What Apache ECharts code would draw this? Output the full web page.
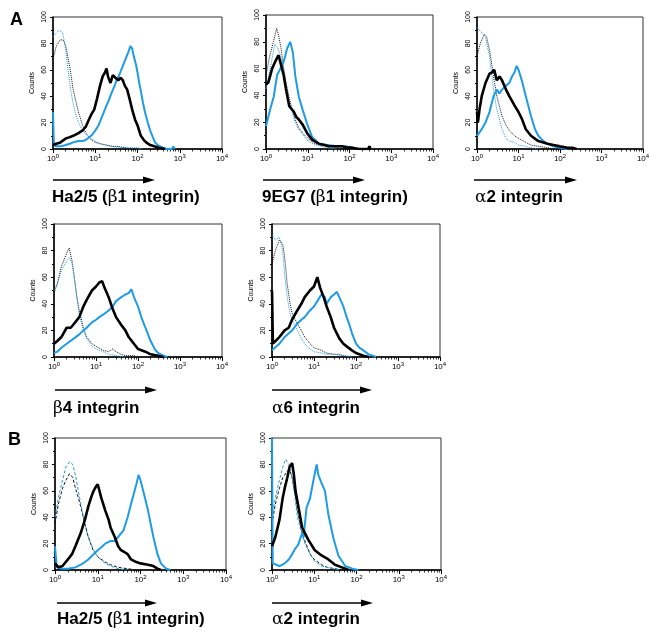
<!DOCTYPE html>
<html><head><meta charset="utf-8">
<script src="https://cdn.jsdelivr.net/npm/echarts@6/dist/echarts.min.js"></script>
<style>html,body{margin:0;padding:0;background:#fff}#c{width:649px;height:635px}</style>
</head><body><div id="c"></div>
<script>
// ---- data: [fluorescence intensity, counts] ----
const p1BlackDot = [[1,68],[1.2,78],[1.5,83],[1.8,82],[2,78],[2.5,62],[3,45],[4,28],[5,18],[6,12],[8,7],[10,5],[13,4],[18,3],[25,2],[35,2],[50,1],[70,0]];
const p1BlueDot = [[1,85],[1.2,88],[1.4,90],[1.7,88],[2,75],[2.3,58],[2.7,42],[3.2,30],[4,20],[5,14],[6,11],[8,8],[10,6],[13,4],[18,3],[25,2],[40,1],[60,1],[100,1],[130,0]];
const p1Black = [[1,3],[1.2,4],[1.5,5],[2,8],[2.5,9],[3,10],[4,12],[5,14],[6,17],[7,22],[8,26],[9.5,30],[11,38],[13,48],[15,55],[17,58],[18.5,61],[20,55],[23,50],[26,56],[30,54],[35,52],[40,54],[45,52],[50,48],[57,45],[65,38],[76,29],[88,22],[100,18],[120,10],[140,7],[160,5],[200,3],[250,2],[320,1],[450,0]];
const p1Blue = [[1,28],[1.05,3],[1.2,2],[1.5,2],[2,3],[2.5,4],[3,5],[4,6],[5,6],[6,7],[8,10],[10,14],[12,18],[13.5,22],[16,28],[18.5,33],[21,37],[24,42],[28,47],[32,52],[38,57],[45,63],[52,68],[60,73],[68,78],[75,76],[82,70],[92,64],[100,58],[110,50],[120,44],[135,35],[150,28],[175,20],[200,14],[230,9],[260,5],[300,3],[400,1],[500,0],[650,0],[700,2],[760,0]];

const p2BlackDot = [[1,55],[1.2,68],[1.5,80],[1.8,90],[2,85],[2.3,75],[2.6,62],[3,50],[3.5,40],[4,32],[5,22],[6,16],[8,11],[10,8],[12,6],[15,4],[20,3],[30,2],[50,1],[80,0]];
const p2BlueDot = [[1,45],[1.3,62],[1.6,78],[1.9,76],[2.2,70],[2.6,60],[3,48],[3.5,38],[4,30],[5,20],[6,15],[8,10],[10,6],[15,3],[20,2],[30,1],[50,0]];
const p2Black = [[1,48],[1.15,50],[1.4,60],[1.6,64],[1.84,68],[2,70],[2.2,65],[2.65,55],[3,45],[3.6,32],[4.6,28],[5.3,24],[6.1,22],[7.6,18],[9.6,12],[12.7,7],[18.4,4],[25,3],[32,2],[50,2],[66,2],[90,1],[116,1],[168,0],[280,0],[300,2],[320,0]];
const p2Blue = [[1,17],[1.06,18],[1.27,30],[1.53,39],[1.84,55],[2.2,60],[2.65,65],[3.2,75],[3.8,80],[4.4,72],[5.06,54],[6.1,39],[7.6,29],[9.6,19],[12.7,9],[18.4,4],[30,3],[50,2],[80,2],[120,1],[150,0]];

const p3BlackDot = [[1,70],[1.2,80],[1.5,87],[1.7,85],[2,75],[2.5,55],[3,40],[4,25],[5,18],[6,14],[8,10],[10,8],[15,5],[20,3],[30,2],[50,1],[70,0]];
const p3BlueDot = [[1,92],[1.3,88],[1.6,85],[2,70],[2.5,45],[3,30],[4,15],[5,8],[6,6],[8,5],[10,3],[15,2],[20,1],[30,0]];
const p3Black = [[1,28],[1.05,20],[1.15,30],[1.3,40],[1.6,50],[2,57],[2.3,58],[2.6,60],[3,52],[3.5,55],[4,52],[5,45],[6,40],[8,33],[10,28],[12,23],[15,15],[20,10],[30,6],[40,5],[50,4],[70,3],[100,2],[150,1],[200,1],[250,0]];
const p3Blue = [[1,10],[1.3,15],[1.6,20],[2,28],[2.5,40],[3,45],[3.5,42],[4,45],[5,48],[6,50],[7,55],[8,58],[9,63],[10,60],[12,52],[15,40],[20,25],[25,15],[30,10],[40,6],[50,4],[70,2],[100,1],[150,0]];

const p4BlackDot = [[1,48],[1.2,55],[1.5,68],[2,78],[2.3,82],[2.7,72],[3,62],[3.5,45],[4,35],[5,22],[6,15],[8,10],[10,8],[15,5],[20,4],[25,6],[30,4],[40,2],[50,1],[80,1],[100,0]];
const p4BlueDot = [[1,50],[1.2,55],[1.5,65],[2,72],[2.3,75],[2.7,70],[3,60],[3.5,45],[4,32],[5,20],[6,14],[8,8],[10,6],[15,4],[20,2],[30,1],[50,0]];
const p4Black = [[1,10],[1.2,12],[1.5,15],[2,22],[2.5,22],[3,25],[4,30],[5,38],[6,43],[8,50],[10,53],[12,56],[14,57],[16,52],[20,45],[25,36],[30,30],[40,24],[50,20],[60,15],[80,10],[100,6],[150,4],[200,2],[300,1],[400,0]];
const p4Blue = [[1,3],[1.2,4],[1.5,7],[2,10],[3,14],[4,17],[5,20],[6,22],[8,26],[10,28],[12,30],[15,32],[20,35],[25,38],[30,42],[40,45],[50,47],[60,48],[70,51],[80,45],[100,38],[120,30],[150,22],[200,12],[250,6],[300,3],[400,1],[500,0]];

const p5BlackDot = [[1,70],[1.2,80],[1.5,88],[1.8,85],[2,75],[2.3,55],[2.7,40],[3,33],[4,25],[5,20],[6,15],[8,10],[10,7],[15,5],[20,3],[30,2],[40,2],[50,1],[80,0]];
const p5BlueDot = [[1,92],[1.2,88],[1.5,90],[1.8,80],[2,62],[2.3,45],[2.7,32],[3,28],[4,20],[5,14],[6,10],[8,6],[10,4],[15,3],[20,2],[30,2],[50,1],[80,0]];
const p5Black = [[1,50],[1.05,10],[1.5,15],[2,20],[2.5,22],[3,28],[4,35],[5,40],[6,45],[8,50],[10,53],[12,60],[14,52],[17,45],[20,38],[25,30],[30,22],[40,14],[50,10],[60,8],[80,5],[100,3],[150,1],[200,0]];
const p5Blue = [[1,5],[1.5,10],[2,15],[3,20],[4,25],[5,28],[6,30],[8,35],[10,38],[12,42],[15,47],[18,45],[20,40],[25,45],[30,47],[35,49],[40,45],[50,38],[60,30],[70,24],[80,18],[100,10],[120,7],[150,5],[200,2],[250,1],[300,0]];

const p6BlackDash = [[1,35],[1.2,50],[1.5,62],[1.8,68],[2.2,73],[2.6,70],[3,62],[3.5,55],[4,48],[5,35],[6,25],[8,14],[10,10],[15,6],[20,4],[30,2],[50,1],[80,0]];
const p6BlueDash = [[1,40],[1.2,55],[1.5,68],[1.8,78],[2.2,82],[2.6,80],[3,72],[3.5,60],[4,50],[5,35],[6,25],[8,15],[10,10],[15,5],[20,3],[30,1],[50,0]];
const p6Black = [[1,5],[1.2,2],[1.5,3],[2,8],[2.5,12],[3,18],[4,28],[5,38],[6,48],[7,55],[8,60],[9,63],[10,65],[12,55],[15,45],[18,38],[20,32],[25,25],[30,18],[35,15],[40,14],[50,12],[60,8],[80,6],[100,5],[150,4],[200,3],[250,1],[300,0]];
const p6Blue = [[1,18],[1.1,2],[1.5,1],[2,1],[3,2],[4,4],[5,6],[6,8],[8,12],[10,15],[12,17],[15,20],[20,22],[25,22],[30,25],[40,30],[50,40],[60,50],[70,58],[80,65],[90,72],[100,68],[120,58],[150,45],[200,25],[250,12],[300,5],[400,1],[500,0]];

const p7BlackDash = [[1,35],[1.2,50],[1.5,62],[1.8,70],[2,72],[2.3,75],[2.6,76],[3,70],[3.5,58],[4,45],[5,30],[6,22],[8,12],[10,8],[15,4],[20,2],[30,1],[50,0]];
const p7BlueDash = [[1,40],[1.2,55],[1.5,68],[1.8,78],[2.1,84],[2.5,80],[3,70],[3.5,55],[4,40],[5,28],[6,20],[8,12],[10,7],[15,3],[20,2],[30,1],[40,0]];
const p7Black = [[1,18],[1.2,25],[1.5,38],[1.8,55],[2,62],[2.3,70],[2.6,78],[3,81],[3.3,72],[3.6,60],[4.16,49],[5.18,32],[6,28],[7.2,23],[10.3,15],[14.9,11],[21.6,8],[31,4],[45,2],[65,0]];
const p7Blue = [[1,100],[1.04,5],[1.5,3],[2,5],[2.5,8],[3,12],[3.5,16],[4.16,19],[5.18,28],[5.6,25],[6.55,47],[7.9,54],[9.45,67],[11.4,80],[12.5,72],[14.4,67],[17.9,60],[21.6,42],[28.4,24],[37.2,11],[54,3],[80,1],[110,0]];

const panelLabels = ['Ha2/5 (β1 integrin)', '9EG7 (β1 integrin)', 'α2 integrin', 'β4 integrin', 'α6 integrin', 'Ha2/5 (β1 integrin)', 'α2 integrin'];
const panelLetters = ['A', 'B'];
const yName = 'Counts';
const minorTickValues = [2,3,4,5,6,7,8,9,20,30,40,50,60,70,80,90,200,300,400,500,600,700,800,900,2000,3000,4000,5000,6000,7000,8000,9000];

// ---- layout / style ----
const FONT = '"Liberation Sans", Arial, Helvetica, sans-serif';
const SERIF = '"DejaVu Serif", "Liberation Serif", serif';
const BLUE = '#1e9be6';

const panels = [
  {box:{left:53,top:17,width:169,height:132}, dash:'dotted', lines:[p1BlackDot,p1BlueDot,p1Blue,p1Black], label:[52,200], arrow:[53,155,180]},
  {box:{left:266,top:15,width:167,height:134}, dash:'dotted', lines:[p2BlackDot,p2BlueDot,p2Blue,p2Black], label:[262,200], arrow:[263,365,180]},
  {box:{left:477,top:17,width:166,height:132}, dash:'dotted', lines:[p3BlackDot,p3BlueDot,p3Blue,p3Black], label:[475,200], arrow:[474,577,180]},
  {box:{left:54,top:224,width:168,height:133}, dash:'dotted', lines:[p4BlackDot,p4BlueDot,p4Blue,p4Black], label:[53,411], arrow:[55,157,390]},
  {box:{left:272,top:224,width:168,height:133}, dash:'dotted', lines:[p5BlackDot,p5BlueDot,p5Blue,p5Black], label:[272,411], arrow:[272,372,390]},
  {box:{left:55,top:438,width:171,height:132}, dash:[3,2], lines:[p6BlackDash,p6BlueDash,p6Blue,p6Black], label:[57,622], arrow:[57,157,603]},
  {box:{left:272,top:438,width:169,height:132}, dash:[3,2], lines:[p7BlackDash,p7BlueDash,p7Blue,p7Black], label:[272,622], arrow:[272,373,603]}
];
const lineColors = ['#111', BLUE, BLUE, '#000'];
const lineWidths = [1, 1, 2, 2.6];

const grids = [], xAxes = [], yAxes = [], series = [], graphics = [];

function richLabel(s) {
  let out = '';
  for (const ch of s) {
    if (ch === 'α' || ch === 'β') out += '{g|' + ch + '}';
    else out += '{b|' + ch + '}';
  }
  return out;
}

panels.forEach((p, i) => {
  grids.push(Object.assign({show:true, borderColor:'#333', borderWidth:1, containLabel:false, outerBoundsMode:'none'}, p.box));
  xAxes.push({
    type:'log', logBase:10, gridIndex:i, min:1, max:10000, splitNumber:4,
    axisLine:{show:true, onZero:false, lineStyle:{color:'#000', width:1.5}},
    axisTick:{show:true, length:4, lineStyle:{color:'#000', width:1}},
    splitLine:{show:false},
    axisLabel:{
      margin:4, showMinLabel:true, showMaxLabel:true, hideOverlap:false,
      formatter: v => '{b|10}{s|' + Math.round(Math.log10(v)) + '}',
      rich:{ b:{fontSize:8, fontFamily:FONT, color:'#000'}, s:{fontSize:6, fontFamily:FONT, color:'#000', padding:[0,0,5,0]} }
    }
  });
  xAxes.push({
    type:'log', logBase:10, gridIndex:i, min:1, max:10000, position:'bottom',
    axisLine:{show:false}, axisLabel:{show:false}, splitLine:{show:false},
    axisTick:{show:true, customValues:minorTickValues, length:2.5, lineStyle:{color:'#000', width:0.8}}
  });
  yAxes.push({
    type:'value', gridIndex:i, min:0, max:100, interval:20,
    name:yName, nameLocation:'middle', nameGap:17, nameRotate:90,
    nameTextStyle:{fontSize:7, fontFamily:FONT, color:'#000'},
    axisLine:{show:true, onZero:false, lineStyle:{color:'#000', width:1.5}},
    axisTick:{show:true, length:3, lineStyle:{color:'#000'}},
    minorTick:{show:true, splitNumber:2, length:2, lineStyle:{color:'#000'}},
    splitLine:{show:false},
    axisLabel:{rotate:90, fontSize:7, fontFamily:FONT, color:'#000', margin:5}
  });
  p.lines.forEach((d, k) => {
    series.push({
      type:'line', xAxisIndex:2*i, yAxisIndex:i, data:d, symbol:'none', silent:true,
      clip:true, z: 2 + k,
      lineStyle:{color:lineColors[k], width:lineWidths[k], type: k < 2 ? p.dash : 'solid'}
    });
  });
  graphics.push({
    type:'text', left:p.label[0], top:p.label[1] - 11,
    style:{ text: richLabel(panelLabels[i]),
      rich:{ b:{fontSize:17, fontWeight:'bold', fontFamily:FONT, fill:'#000'},
             g:{fontSize:17, fontFamily:SERIF, fill:'#000'} } }
  });
  const [ax0, ax1, ay] = p.arrow;
  graphics.push({type:'line', shape:{x1:ax0, y1:ay, x2:ax1 - 10, y2:ay}, style:{stroke:'#000', lineWidth:1.5}});
  graphics.push({type:'polygon', shape:{points:[[ax1 - 12, ay - 3.5],[ax1, ay],[ax1 - 12, ay + 3.5]]}, style:{fill:'#000'}});
});

graphics.push({type:'text', left:10, top:11, style:{text:panelLetters[0], fontSize:18, fontWeight:'bold', fontFamily:FONT, fill:'#000'}});
graphics.push({type:'text', left:8, top:431, style:{text:panelLetters[1], fontSize:18, fontWeight:'bold', fontFamily:FONT, fill:'#000'}});

const chart = echarts.init(document.getElementById('c'), null, {renderer:'canvas'});
chart.setOption({
  animation:false,
  backgroundColor:'#fff',
  grid:grids, xAxis:xAxes, yAxis:yAxes, series:series, graphic:graphics
});
</script></body></html>
